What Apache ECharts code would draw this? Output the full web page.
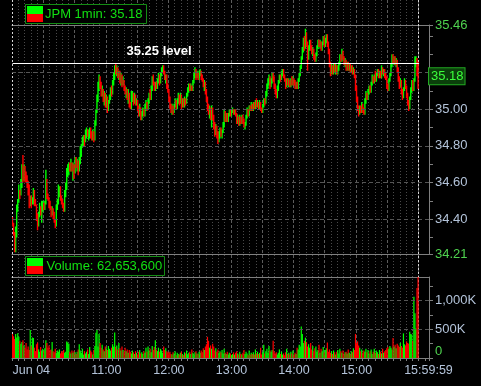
<!DOCTYPE html>
<html><head><meta charset="utf-8">
<script src="https://cdn.jsdelivr.net/npm/echarts@6/dist/echarts.min.js"></script>
<style>html,body{margin:0;padding:0;background:#000;}#c{width:481px;height:386px;}</style>
</head><body><div id="c"></div>
<script>
// ---- data (prices in cents above 34.00, 1-minute bars 09:30-15:59) ----
const openFirst = 40;
const closeC = [
37,32,24,35,46,50,56,53,60,68, 62,66,63,61,58,55,48,51,49,51, 55,50,48,42,37,42,46,43,47,48,
46,49,62,54,51,48,46,43,46,41, 40,37,46,49,54,56,52,50,47,45, 53,57,65,66,70,67,71,68,70,66,
72,70,72,68,73,79,80,84,85,83, 87,88,86,88,89,85,84,87,84,92, 99,106,112,117,113,109,111,106,108,103,
106,101,104,107,111,109,114,118,122,120, 122,118,120,116,118,114,116,112,109,110, 106,108,103,101,106,108,104,107,103,105,
101,98,100,96,97,99,97,101,103,101, 104,108,106,111,116,114,112,114,112,116, 118,115,119,121,123,120,117,118,113,110,
106,102,100,101,99,102,104,101,104,107, 104,107,103,105,102,105,104,108,111,113, 111,113,111,115,119,121,118,120,117,119,
121,118,116,113,114,110,106,101,98,100, 96,101,96,92,88,90,86,83,86,89, 86,88,92,99,95,97,94,97,99,97,
99,100,98,99,97,93,95,92,95,93, 96,93,91,92,96,99,97,101,100,102, 100,103,101,104,102,104,101,103,100,99,
102,105,104,108,112,115,118,113,116,119, 117,113,110,107,111,115,118,117,120,121, 118,116,113,116,114,116,113,116,114,117,
115,113,114,112,116,119,123,128,133,137, 134,141,136,128,134,137,134,131,132,129, 127,130,134,137,135,137,134,136,139,136,
138,140,136,132,125,120,123,120,124,121, 124,120,122,125,129,127,131,128,125,127, 123,125,122,124,122,123,121,122,118,112,
106,101,98,101,99,102,100,98,104,108, 106,110,112,110,114,117,115,118,116,119, 121,118,120,118,122,120,121,119,117,113,
111,116,119,124,129,126,128,125,127,122, 117,113,116,110,107,111,115,112,108,104, 101,106,110,114,112,116,125,127,121,118
];
const highC = [
41,38,33,36,48,51,59,56,62,70, 75,70,69,66,64,61,59,53,53,52, 57,56,51,48,43,44,49,47,50,50,
49,50,67,62,54,52,50,47,47,46, 44,40,48,51,59,58,58,53,51,49, 56,60,68,70,71,71,73,71,71,70,
74,74,73,72,74,80,81,85,86,86, 89,90,89,89,90,90,88,89,88,94, 100,108,115,119,118,115,113,111,110,109,
108,107,105,108,112,113,116,120,124,125, 124,123,121,121,120,119,118,116,113,112, 111,111,109,104,110,110,109,109,108,106,
105,102,103,101,99,101,100,103,105,104, 106,109,111,113,118,119,115,115,115,117, 120,119,120,123,124,124,121,119,119,114,
111,107,103,103,102,103,106,105,106,109, 108,109,108,106,106,107,106,109,112,114, 114,114,113,116,120,123,122,121,120,121,
122,121,119,117,116,115,111,107,103,102, 101,102,101,97,93,92,91,88,88,90, 90,89,93,100,99,98,98,98,100,100,
100,101,100,100,100,98,97,96,97,96, 97,97,95,93,97,101,100,102,102,104, 103,104,104,105,106,105,104,105,104,101,
103,106,106,110,114,117,119,118,117,120, 120,118,114,111,113,116,119,119,121,122, 122,119,117,117,117,117,116,117,118,118,
117,116,115,115,117,120,124,129,134,139, 140,144,142,137,135,138,138,135,134,133, 130,131,135,138,138,138,137,137,140,140,
139,141,141,137,133,126,125,124,125,125, 125,124,124,126,130,130,133,132,129,128, 127,126,126,125,125,124,124,123,122,119,
113,107,102,102,102,104,103,101,106,110, 109,111,113,113,115,119,118,119,121,120, 122,122,121,121,124,123,122,122,120,118,
114,117,120,125,130,130,129,129,128,127, 123,118,117,116,111,112,117,116,113,109, 105,107,112,116,116,117,129,129,128,126
];
const lowC = [
36,31,22,22,30,44,49,51,53,57, 60,61,60,60,57,53,46,47,46,48, 48,47,47,39,34,36,41,42,38,44,
45,45,48,51,50,46,45,41,42,40, 38,35,36,45,48,52,50,48,46,44, 44,52,56,63,64,66,66,66,61,62,
65,68,66,64,66,70,74,79,80,80, 82,84,85,83,84,84,83,83,82,83, 91,98,104,110,111,107,107,104,102,101,
101,98,99,103,105,107,108,113,116,119, 118,117,116,114,113,112,113,110,108,106, 105,103,101,100,100,104,102,103,102,102,
99,96,96,94,94,96,96,96,99,99, 100,103,105,105,110,113,110,110,111,111, 114,113,114,118,120,119,116,114,111,109,
104,100,98,97,97,98,101,100,100,103, 102,103,100,101,101,101,102,103,107,109, 110,110,110,110,114,117,116,117,116,116,
118,116,115,112,110,108,104,99,97,95, 94,90,94,89,85,86,84,81,82,84, 85,84,87,90,93,93,93,93,96,96,
96,98,97,97,96,92,92,91,91,92, 92,92,90,89,91,95,96,96,99,99, 99,99,100,100,101,101,100,100,99,98,
98,101,102,103,107,111,113,111,112,114, 115,111,108,106,106,110,114,115,116,118, 117,115,111,112,113,112,112,112,113,113,
113,111,111,111,111,115,118,122,127,131, 132,133,134,121,127,132,132,130,129,127, 126,126,129,133,134,133,132,132,135,134,
134,136,134,130,123,118,119,119,119,120, 119,119,119,121,124,126,126,127,124,123, 121,121,121,121,120,120,119,119,117,110,
104,99,96,97,98,98,98,97,97,103, 105,105,108,109,109,113,114,114,115,115, 118,117,117,117,117,119,118,117,116,111,
110,110,115,118,123,125,124,124,123,120, 115,111,112,108,105,106,110,111,106,102, 99,100,105,109,110,110,115,123,118,111
];
// volume per minute, thousands of shares
const volK = [
420,380,330,420,360,430,370,300,250,280, 310,220,180,260,150,200,140,490,210,360, 350,180,120,240,270,150,110,190,130,160,
120,170,310,260,180,220,140,150,280,120, 100,160,90,130,110,150,80,120,100,140, 90,110,290,270,250,110,80,130,90,120,
100,70,110,150,240,130,90,160,60,120, 80,110,150,70,190,130,100,60,140,210, 440,490,200,420,260,180,230,150,120,200,
170,140,210,160,130,180,240,200,445,190, 220,150,260,170,130,200,140,110,180,120, 150,90,140,110,80,130,100,70,120,90,
60,110,140,80,100,70,120,90,180,110, 200,130,160,100,210,140,190,310,150,120, 180,110,160,130,90,200,140,170,120,100,
90,110,70,60,100,80,120,50,90,70, 60,90,110,70,50,100,80,130,60,90, 110,70,150,90,60,100,120,80,70,110,
90,130,100,170,140,200,240,370,300,180, 220,160,250,200,130,170,110,150,90,120, 100,140,80,160,90,70,110,60,90,80,
50,70,100,60,90,120,80,60,110,70, 60,90,140,70,110,80,50,130,60,90, 70,100,60,150,80,110,70,90,180,60,
100,230,80,120,160,90,210,130,110,140, 300,120,80,100,60,90,150,70,110,60, 80,50,100,160,70,90,60,110,80,130,
60,90,70,180,150,230,200,550,420,260, 300,355,280,200,240,180,260,150,210,120, 170,200,110,140,230,90,160,120,190,100,
140,170,270,110,150,90,120,70,130,100, 60,110,140,80,160,120,90,130,70,100, 110,80,150,90,60,120,100,170,140,420,
260,290,220,180,120,150,90,130,110,160, 100,140,80,120,150,70,110,160,90,130, 100,70,140,110,80,160,90,120,140,170,
190,160,210,180,150,350,200,230,170,250, 220,190,260,210,180,430,240,220,290,260, 250,460,420,410,300,1070,780,520,1220,1414
];
const levelPrice = 35.25;
const priceMin = 34.21, priceMax = 35.46;
const priceLabelValues = [34.21, 34.40, 34.60, 34.80, 35.00, 35.46];
const priceTickValues = [34.21,34.3,34.4,34.5,34.6,34.7,34.8,34.9,35.0,35.1,35.2,35.3,35.4,35.46];
const priceGridValues = [34.4, 34.6, 34.8, 35.0, 35.2];
const volMax = 1414000;
const volLabelValues = [0, 500000, 1000000];
const volTickValues = [0, 250000, 500000, 750000, 1000000, 1250000];
const volGridValues = [500000, 1000000];
const timeLabelIndex = [0, 90, 150, 210, 270, 330, 399];
const timeLabelText = ['Jun 04', '11:00', '12:00', '13:00', '14:00', '15:00', '15:59:59'];
const volumeTotalText = '62,653,600';

// ---- build ----
const N = closeC.length, SLOTS = 400;
const cats = [];
for (let i = 0; i < SLOTS; i++) { const t = 570 + i; cats.push(String(Math.floor(t/60)).padStart(2,'0') + ':' + String(t%60).padStart(2,'0')); }
const candles = closeC.map((c, i) => {
  const o = i === 0 ? openFirst : closeC[i-1];
  return [+(34 + o/100).toFixed(2), +(34 + c/100).toFixed(2), +(34 + lowC[i]/100).toFixed(2), +(34 + highC[i]/100).toFixed(2)];
});
const up = candles.map(d => d[1] >= d[0]);
const vols = volK.map(v => v * 1000);
const lastClose = candles[N-1][1];
const GREEN = '#00ff00', RED = '#ff0000';
const FONT = '"Liberation Sans", Arial, sans-serif';
const LBL = '#b3c3d9', LBLG = '#4fd24f', AX = '#7f7f7f';
const bgWidth = 417 * 390 / SLOTS;

const labelMap = {};
timeLabelIndex.forEach((ix, k) => labelMap[ix] = timeLabelText[k]);

function bgAxis(interval, color, type, z) {
  return { type: 'category', gridIndex: 2, data: cats.slice(0, 390), boundaryGap: true, z: z,
    axisLine: {show: false}, axisTick: {show: false}, axisLabel: {show: false},
    splitLine: {show: true, interval: interval, lineStyle: {color: color, type: type, width: 1}} };
}
function lineAxis(grid, pos) {
  return { type: 'category', gridIndex: grid, position: pos, data: cats, boundaryGap: true,
    axisLine: {show: true, onZero: false, lineStyle: {color: AX}}, axisTick: {show: false}, axisLabel: {show: false}, splitLine: {show: false} };
}

const chart = echarts.init(document.getElementById('c'), null, {renderer: 'canvas'});
chart.setOption({
  backgroundColor: '#000',
  animation: false,
  grid: [
    {left: 12, right: 52, top: 25, height: 229},
    {left: 12, right: 52, top: 277, height: 81},
    {left: 12, width: bgWidth, top: 0, height: 358}
  ],
  xAxis: [
    lineAxis(0, 'bottom'),
    lineAxis(0, 'top'),
    { type: 'category', gridIndex: 1, position: 'bottom', data: cats, boundaryGap: true,
      axisLine: {show: true, onZero: false, lineStyle: {color: AX}},
      axisTick: {show: true, interval: (i) => i % 6 === 0, length: 3, lineStyle: {color: AX}},
      axisLabel: {show: true, interval: (i) => labelMap[i] !== undefined, formatter: (v, i) => labelMap[i] || '',
        color: LBL, fontSize: 12.5, fontFamily: FONT, margin: 6, alignMinLabel: 'left'},
      splitLine: {show: false} },
    lineAxis(1, 'top'),
    bgAxis((i) => i % 6 === 0 && i % 30 !== 0, '#4a4a4a', [1, 2], 0),
    bgAxis((i) => i % 30 === 0 && i !== 0, '#5c5c5c', [3, 2], 0),
    bgAxis((i) => i === 0, '#d6d6d6', [2, 2], 1)
  ],
  yAxis: [
    { type: 'value', gridIndex: 0, position: 'right', min: priceMin, max: priceMax, scale: true,
      axisLine: {show: true, lineStyle: {color: AX}},
      axisTick: {show: true, length: 4, customValues: priceTickValues, lineStyle: {color: AX}},
      axisLabel: {show: true, customValues: priceLabelValues, margin: 6, fontSize: 13, fontFamily: FONT, color: LBL,
        formatter: (v) => (Math.abs(v - priceMin) < 1e-6 || Math.abs(v - priceMax) < 1e-6) ? '{g|' + v.toFixed(2) + '}' : v.toFixed(2),
        rich: {g: {color: LBLG, fontSize: 13, fontFamily: FONT}}},
      splitLine: {show: false} },
    { type: 'value', gridIndex: 1, position: 'right', min: 0, max: volMax,
      axisLine: {show: true, lineStyle: {color: AX}},
      axisTick: {show: true, length: 4, customValues: volTickValues, lineStyle: {color: AX}},
      axisLabel: {show: true, customValues: volLabelValues, margin: 6, fontSize: 13, fontFamily: FONT, color: LBL,
        verticalAlignMinLabel: 'bottom',
        formatter: (v) => v === 0 ? '{g|0}' : (v / 1000).toLocaleString('en-US') + 'K',
        rich: {g: {color: LBLG, fontSize: 13, fontFamily: FONT}}},
      splitLine: {show: false} },
    { type: 'value', gridIndex: 2, show: false }
  ],
  series: [
    { type: 'candlestick', name: 'JPM', xAxisIndex: 0, yAxisIndex: 0, data: candles,
      large: true, largeThreshold: 50,
      itemStyle: {color: GREEN, color0: RED, borderColor: GREEN, borderColor0: RED, borderWidth: 1.4} },
    { type: 'line', xAxisIndex: 0, yAxisIndex: 0, data: [], clip: false, silent: true,
      markLine: { silent: true, symbol: 'none', animation: false,
        data: [
          ...priceGridValues.map(v => ({yAxis: v, lineStyle: {color: '#555', type: [4, 3], width: 1}, label: {show: false}})),
          [ {coord: [0, levelPrice], lineStyle: {color: '#ffffff', type: 'solid', width: 1},
             label: {show: true, position: 'insideStartTop', formatter: levelPrice.toFixed(2) + ' level', color: '#fff',
               fontSize: 13, fontWeight: 'bold', fontFamily: FONT, distance: 6, padding: [0, 0, 0, 108]}},
            {coord: [390, levelPrice]} ],
          {yAxis: lastClose, lineStyle: {color: 'rgba(0,0,0,0)', width: 1, type: 'solid'},
           label: {show: true, position: 'end', distance: 0, formatter: lastClose.toFixed(2), color: '#3cff3c',
             fontSize: 13, fontFamily: FONT, backgroundColor: '#0b3f0b', borderColor: '#22a822', borderWidth: 1, padding: [2, 1, 1, 2]}}
        ] } },
    { type: 'bar', xAxisIndex: 2, yAxisIndex: 1, data: vols, barWidth: 1.2,
      itemStyle: {color: (p) => up[p.dataIndex] ? GREEN : RED},
      markLine: { silent: true, symbol: 'none', animation: false,
        data: volGridValues.map(v => ({yAxis: v, lineStyle: {color: '#555', type: [4, 3], width: 1}, label: {show: false}})) } }
  ],
  graphic: [
    {type: 'rect', z: 100, shape: {x: 25.5, y: 4.5, width: 121, height: 19}, style: {fill: '#000', stroke: '#148c14', lineWidth: 1}},
    {type: 'rect', z: 101, shape: {x: 27, y: 6, width: 16, height: 8}, style: {fill: GREEN}},
    {type: 'rect', z: 101, shape: {x: 27, y: 14, width: 16, height: 8}, style: {fill: RED}},
    {type: 'text', z: 101, x: 45, y: 14.5, style: {text: 'JPM 1min: ' + lastClose.toFixed(2), fill: '#12e012', font: '13px ' + FONT, verticalAlign: 'middle'}},
    {type: 'rect', z: 100, shape: {x: 25.5, y: 256.5, width: 139, height: 19}, style: {fill: '#000', stroke: '#148c14', lineWidth: 1}},
    {type: 'rect', z: 101, shape: {x: 27, y: 258, width: 16, height: 8}, style: {fill: GREEN}},
    {type: 'rect', z: 101, shape: {x: 27, y: 266, width: 16, height: 8}, style: {fill: RED}},
    {type: 'text', z: 101, x: 46.5, y: 266.5, style: {text: 'Volume: ' + volumeTotalText, fill: '#12e012', font: '13px ' + FONT, verticalAlign: 'middle'}}
  ]
});
</script></body></html>
